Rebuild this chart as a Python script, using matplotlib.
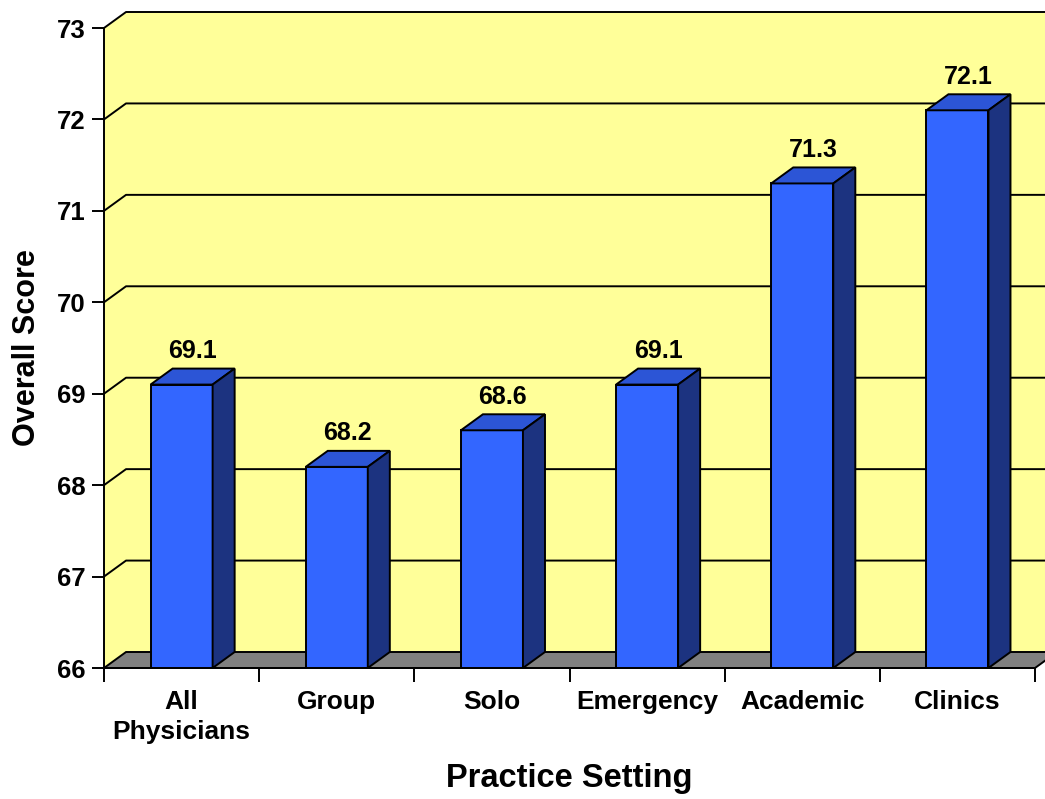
import matplotlib
matplotlib.use("Agg")
import matplotlib.pyplot as plt
from matplotlib.patches import Polygon

plt.rcParams['font.family'] = ['Liberation Sans', 'DejaVu Sans']
plt.rcParams['font.weight'] = 'bold'

categories = ["All\nPhysicians", "Group", "Solo", "Emergency", "Academic", "Clinics"]
scores = [69.1, 68.2, 68.6, 69.1, 71.3, 72.1]
y_ticks = [66, 67, 68, 69, 70, 71, 72, 73]

Y0, Y1 = 66, 73
DX, DY = 0.142, 0.175       # depth offset of the 3-D back plane (data units)
BAR_W = 0.40

WALL = "#FFFF99"
FLOOR = "#808080"
FRONT = "#3366FF"
TOP = "#2C55D6"
SIDE = "#1C3380"
LW = 1.4

fig = plt.figure(figsize=(10.45, 7.99), dpi=100)
ax = fig.add_axes([104 / 1045, 131 / 799, 931 / 1045, 640 / 799])
n = len(categories)
ax.set_xlim(0, n)
ax.set_ylim(Y0, Y1)
ax.set_facecolor("none")

# back and side walls
xr = n + DX + 0.2
wall = Polygon([(0, Y0), (0, Y1), (DX, Y1 + DY), (xr, Y1 + DY), (xr, Y0 + DY), (DX, Y0 + DY)],
               closed=True, facecolor=WALL, edgecolor="none", clip_on=False, zorder=0)
ax.add_patch(wall)
ax.plot([0, DX, xr], [Y1, Y1 + DY, Y1 + DY], color="black", lw=LW, clip_on=False, zorder=1,
        solid_capstyle="butt")

# gridlines on side and back walls
for t in y_ticks[1:-1]:
    ax.plot([0, DX, xr], [t, t + DY, t + DY], color="black", lw=LW, clip_on=False, zorder=1)

# floor
floor = Polygon([(0, Y0), (n, Y0), (n + DX, Y0 + DY), (DX, Y0 + DY)], closed=True,
                facecolor=FLOOR, edgecolor="black", lw=LW, clip_on=False, zorder=2)
ax.add_patch(floor)
ax.plot([n + DX, xr], [Y0 + DY, Y0 + DY], color="black", lw=LW, clip_on=False, zorder=2)

# 3-D bars
for i, v in enumerate(scores):
    x0 = i + 0.5 - BAR_W / 2
    x1 = x0 + BAR_W
    front = Polygon([(x0, Y0), (x1, Y0), (x1, v), (x0, v)], closed=True,
                    facecolor=FRONT, edgecolor="black", lw=LW, zorder=3, clip_on=False)
    top = Polygon([(x0, v), (x1, v), (x1 + DX, v + DY), (x0 + DX, v + DY)], closed=True,
                  facecolor=TOP, edgecolor="black", lw=LW, zorder=3, clip_on=False)
    side = Polygon([(x1, Y0), (x1 + DX, Y0 + DY), (x1 + DX, v + DY), (x1, v)], closed=True,
                   facecolor=SIDE, edgecolor="black", lw=LW, zorder=3, clip_on=False)
    for p in (front, top, side):
        ax.add_patch(p)
    ax.text(i + 0.5 + DX / 2, v + DY + 0.06, f"{v:.1f}", ha="center", va="bottom",
            fontsize=18, fontweight="bold", zorder=4)

# axes: spines and ticks
for s in ("top", "right"):
    ax.spines[s].set_visible(False)
for s in ("left", "bottom"):
    ax.spines[s].set_linewidth(LW)
    ax.spines[s].set_zorder(5)
ax.set_yticks(y_ticks)
ax.set_yticklabels([str(t) for t in y_ticks])
ax.tick_params(axis="y", direction="out", length=9, width=LW, labelsize=18.5, pad=4)
ax.set_xticks(range(n + 1))
ax.set_xticklabels([])
ax.set_xticks([i + 0.5 for i in range(n)], minor=True)
ax.set_xticklabels(categories, minor=True, fontsize=19, fontweight="bold", linespacing=1.3)
ax.tick_params(axis="x", which="major", direction="out", length=10, width=LW)
ax.tick_params(axis="x", which="minor", length=0, pad=16)
for lab in ax.get_xticklabels(minor=True):
    lab.set_verticalalignment("top")

ax.set_xlabel("Practice Setting", fontsize=23.5, fontweight="bold", labelpad=14)
ax.set_ylabel("Overall Score", fontsize=22, fontweight="bold", labelpad=11)

fig.savefig("out.png", dpi=100)
